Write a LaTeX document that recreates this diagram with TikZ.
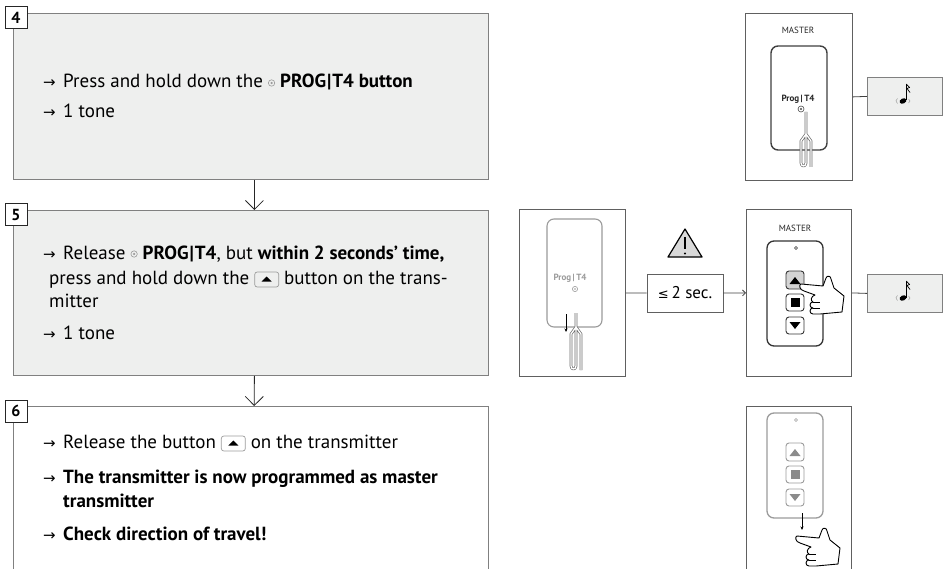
\documentclass[tikz,border=0pt]{standalone}
\usepackage{fontspec}
\setmainfont{PT Sans}
\newfontfamily\symfont{DejaVu Sans}
\usetikzlibrary{arrows.meta}

\definecolor{panelfill}{HTML}{EEEFEE}
\definecolor{panelline}{HTML}{808080}
\definecolor{frameline}{HTML}{606060}
\definecolor{softgray}{HTML}{9B9B9B}
\definecolor{keyfill}{HTML}{D4D4D4}
\definecolor{warnfill}{HTML}{D9D9D9}

% list arrow and the inline key symbols used in the step texts
\newcommand\arr{\makebox[20pt][l]{\symfont\fontsize{15}{15}\selectfont →}}
\newcommand\progkey{\tikz[baseline=0pt]{\draw[softgray,line width=0.6pt] (0pt,5pt) circle (3.2pt); \fill[softgray] (0pt,5pt) circle (1.2pt);}}
\newcommand\upkey{\tikz[baseline=0pt]{\draw[softgray,rounded corners=2.5pt,line width=0.7pt] (0pt,-3pt) rectangle (24pt,12pt); \fill (7pt,2.5pt) -- (17pt,2.5pt) -- (12pt,7.5pt) -- cycle;}}
\newcommand\sepbar{\kern1pt|\kern1pt}

\tikzset{
  panel/.style={draw=panelline, fill=panelfill, line width=0.8pt, inner sep=0pt, anchor=north west},
  tag/.style={draw=black!85, fill=white, line width=1pt, minimum width=22pt, minimum height=22pt, inner sep=0pt, font=\fontsize{16}{16}\selectfont\bfseries},
  txt/.style={anchor=base west, inner sep=0pt, font=\fontsize{19}{24}\selectfont},
  frame/.style={draw=frameline, fill=white, line width=0.8pt, inner sep=0pt, anchor=north west},
  tonebox/.style={draw=panelline, fill=panelfill, line width=0.8pt, inner sep=0pt, anchor=north west},
  secbox/.style={draw=frameline, fill=white, line width=0.8pt, inner sep=0pt, minimum width=76pt, minimum height=38pt, font=\fontsize{17}{17}\selectfont},
  conn/.style={draw=black!75, line width=0.8pt},
  flow/.style={draw=black!85, line width=0.8pt, -{Straight Barb[length=9pt,width=18pt,line width=0.8pt]}},
  small/.style={inner sep=0pt, font=\fontsize{9}{9}\selectfont},
  handline/.style={draw=black, fill=white, line width=0.9pt, line join=round},
  pics/hand/.style={code={
    \draw[handline] (0,0) -- (22,2) -- (25,-6) .. controls (26,-9) and (30,-8) .. (30,-5)
      -- (33,4) -- (43,12) -- (41,28) -- (19,30) -- (12,30)
      .. controls (8,30) and (8,24) .. (12,24) .. controls (8,24) and (8,18) .. (12,18)
      .. controls (9,17) and (10,12) .. (14,11) -- (3,7) .. controls (-2,6) and (-2,0) .. (0,0) -- cycle;
    \draw[handline] (12,24) -- (19,24) (12,18) -- (19,18);
  }},
  pics/note/.style={code={
    \fill[rotate=25] (0,0) ellipse (3.6 and 2.5);
    \draw[line width=0.9pt] (3.3,-0.5) -- (3.3,-17);
    \draw[line width=0.7pt] (3.3,-17) -- (6.5,-13.5) -- (4,-12.5) -- (7,-8.5);
    \draw[softgray, line width=0.5pt] (-5.5,-2.5) .. controls (-7.5,-0.5) .. (-5.5,2.5);
    \draw[softgray, line width=0.5pt] (5.5,-2) .. controls (7.5,0) .. (5.5,2);
  }},
  pics/paperclip/.style 2 args={code={
    \draw[softgray!70!black, double=white, double distance=1.3pt, line width=0.7pt, line join=round]
      (0,-#1) -- (0,#2-3) .. controls (0,#2+1) and (-5,#2+1) .. (-5,#2-3) -- (-5,7) -- (0,0) -- (5,7) -- (5,#2+1);
  }},
  pics/remote/.style n args={4}{code={
    \draw[#1, line width=1.3pt, rounded corners=7pt] (0,0) rectangle (56,105);
    \draw[#1, line width=0.5pt] (29,7) circle (1.5);
    \draw[#1, fill=#3, line width=0.9pt, rounded corners=3pt] (19,30) rectangle (37,48);
    \draw[#1, fill=white, line width=0.9pt, rounded corners=3pt] (19,53) rectangle (37,70);
    \draw[#1, fill=white, line width=0.9pt, rounded corners=3pt] (19,76) rectangle (37,93);
    \fill[#2] (22.5,43) -- (33.5,43) -- (28,36) -- cycle;
    \fill[#2] (23.5,57) rectangle (32.5,66);
    \fill[#2] (22.5,81) -- (33.5,81) -- (28,88) -- cycle;
  }},
}

\begin{document}
\begin{tikzpicture}[x=1pt,y=-1pt]
\useasboundingbox (0,0) rectangle (944,569);

% ---- step panels ----
\node[panel, minimum width=475pt, minimum height=166pt] (p4) at (13,13) {};
\node[panel, minimum width=475pt, minimum height=165pt] (p5) at (13,210) {};
\node[inner sep=0pt, anchor=north west, minimum width=475pt, minimum height=163pt] (p6) at (13,406) {};
\draw[draw=panelline, line width=0.8pt] (p6.south west) -- (p6.north west) -- (p6.north east) -- (p6.south east);

\node[tag] (t4) at (16,18) {4};
\node[tag] (t5) at (16,215) {5};
\node[tag] (t6) at (16,411) {6};

\draw[flow] ([xshift=3.5pt]p4.south) -- ([xshift=3.5pt]p5.north);
\draw[flow] ([xshift=3.5pt]p5.south) -- ([xshift=3.5pt]p6.north);

% ---- step texts ----
\node[txt] (l4a) at (43,88) {\arr Press and hold down the \progkey\ \textbf{PROG\sepbar T4 button}};
\node[txt] (l4b) at (43,118) {\arr 1 tone};

\node[txt] (l5a) at (43,259) {\arr Release \progkey\ \textbf{PROG\sepbar T4}, but \textbf{within 2 seconds' time,}};
\node[txt] (l5b) at (49,284) {press and hold down the \upkey\ button on the trans-};
\node[txt] (l5c) at (49,307) {mitter};
\node[txt] (l5d) at (43,339) {\arr 1 tone};

\node[txt] (l6a) at (43,448) {\arr Release the button \upkey\ on the transmitter};
\node[txt] (l6b) at (43,483) {\arr \textbf{The transmitter is now programmed as master}};
\node[txt] (l6c) at (63,507) {\textbf{transmitter}};
\node[txt] (l6d) at (43,540) {\arr \textbf{Check direction of travel!}};

% ---- illustration frames ----
\node[frame, minimum width=107pt, minimum height=167pt] (fa) at (745,13) {};
\node[frame, minimum width=106pt, minimum height=167pt] (fb) at (519,209) {};
\node[frame, minimum width=105pt, minimum height=167pt] (fc) at (746,209) {};
\node[inner sep=0pt, anchor=north west, minimum width=105pt, minimum height=163pt] (fd) at (746,406) {};
\draw[draw=frameline, line width=0.8pt] (fd.south east) -- (fd.north east) -- (fd.north west) -- (fd.south west);

\node[tonebox, minimum width=75pt, minimum height=38pt] (ta) at (867,77) {};
\node[tonebox, minimum width=75pt, minimum height=38pt] (tc) at (867,274) {};
\node[secbox] (sec) at (685,293) {{\symfont\fontsize{13}{13}\selectfont ≤}\,2 sec.};

\draw[conn] (fa.east) -- (ta.west);
\draw[conn] (fb.east) -- (sec.west);
\draw[conn, -{Straight Barb[length=3pt,width=6pt]}] (sec.east) -- (fc.west);
\draw[conn] (fc.east) -- (tc.west);

\pic at (903,101) {note};
\pic at (903,298) {note};

% warning sign
\draw[fill=warnfill, line width=1.2pt, line join=round] (668,257) -- (685,229) -- (702,257) -- cycle;
\draw[line width=1.6pt] (685,237) -- (685,249);
\fill (685,253.5) circle (1.1);

% ---- receiver, PROG button held ----
\node[small, text=black!85] (ma) at (798,30) {MASTER};
\draw[black!75, line width=1.4pt, rounded corners=7pt] (771,46) rectangle (827,150);
\node[small, font=\fontsize{9}{9}\selectfont\bfseries, text=black!85] (pa) at (798,99) {Prog\,|\,T4};
\draw[black!70, line width=0.6pt] (801,109) circle (3);
\fill[black!70] (801,109) circle (1.2);
\pic at (806,134) {paperclip={22}{32}};

% ---- receiver, PROG button released ----
\draw[softgray, line width=1.1pt, rounded corners=7pt] (547,219) rectangle (602,327);
\node[small, font=\fontsize{9}{9}\selectfont\bfseries, text=softgray] (pb) at (570,278) {Prog\,|\,T4};
\draw[softgray, line width=0.6pt] (575,289) circle (2.6);
\fill[softgray] (575,289) circle (0.9);
\draw[line width=0.7pt, -{Stealth[length=3.5pt,width=3pt]}] (566,314) -- (566,332);
\pic at (576,327) {paperclip={14}{42}};

% ---- transmitter, up key pressed ----
\node[small, text=black!85] (mc) at (795,228) {MASTER};
\pic at (767,241) {remote={black!80}{black}{keyfill}{}};
\pic at (801,284) {hand};

% ---- transmitter, up key released ----
\pic at (767,413) {remote={softgray}{softgray!90!black}{white}{}};
\draw[line width=0.7pt, -{Stealth[length=3.5pt,width=3pt]}] (802,513) -- (802,530);
\pic at (797,536) {hand};
\end{tikzpicture}
\end{document}
